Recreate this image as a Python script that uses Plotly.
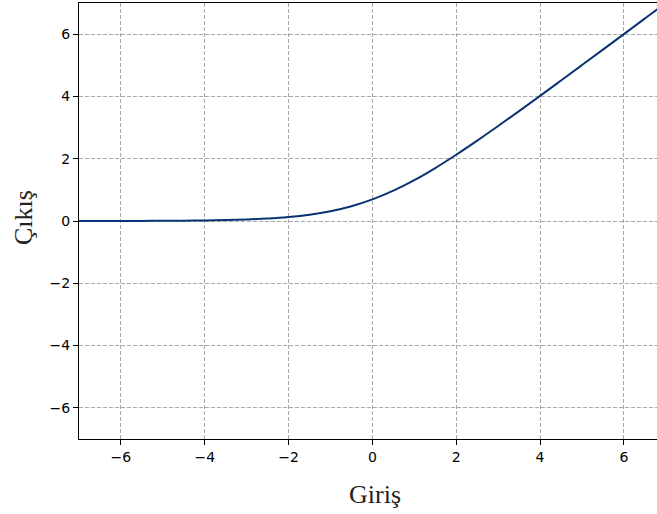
import plotly.graph_objects as go

x_vals = [-7, -6.5, -6, -5.5, -5, -4.5, -4, -3.5, -3, -2.5, -2, -1.5, -1, -0.5,
          0, 0.5, 1, 1.5, 2, 2.5, 3, 3.5, 4, 4.5, 5, 5.5, 6, 6.5, 7]
y_vals = [0.001, 0.0015, 0.0025, 0.004, 0.007, 0.011, 0.018, 0.030, 0.049, 0.079,
          0.127, 0.201, 0.313, 0.474, 0.693, 0.974, 1.313, 1.701, 2.127, 2.579,
          3.049, 3.530, 4.018, 4.511, 5.007, 5.504, 6.002, 6.501, 7.001]
tick_vals = [-6, -4, -2, 0, 2, 4, 6]
tick_text = ["\u22126", "\u22124", "\u22122", "0", "2", "4", "6"]
x_title = "Giriş"
y_title = "Çıkış"

fig = go.Figure()
fig.add_trace(go.Scatter(x=x_vals, y=y_vals, mode="lines",
                         line=dict(color="#0b3373", width=2, shape="spline"),
                         showlegend=False, hoverinfo="skip"))

axis_common = dict(
    showgrid=True, gridcolor="#a9a9a9", griddash="4px,2px", gridwidth=1,
    zeroline=False, showline=True, linecolor="black", linewidth=1.2,
    ticks="outside", ticklen=5, tickwidth=1.2, tickcolor="black",
    tickvals=tick_vals, ticktext=tick_text, automargin=False,
    tickfont=dict(family="DejaVu Sans", size=14, color="black"),
)

fig.update_xaxes(range=[-7, 6.79], mirror=True, **axis_common)
fig.update_yaxes(range=[-7, 7], **axis_common)

title_font = dict(family="Liberation Serif", size=26, color="#222")
fig.add_annotation(text=x_title, xref="paper", yref="paper", x=0.512, y=-0.089,
                   xanchor="center", yanchor="top", showarrow=False, font=title_font)
fig.add_annotation(text=y_title, xref="paper", yref="paper", x=-0.095, y=0.507,
                   xanchor="center", yanchor="middle", textangle=-90,
                   showarrow=False, font=title_font)

fig.update_layout(
    width=657, height=514,
    margin=dict(l=79, r=0, t=3, b=75),
    plot_bgcolor="white", paper_bgcolor="white",
)

fig.write_html("out.html", config={"displayModeBar": False},
               post_script="document.body.style.margin='0';document.body.style.overflow='hidden';")
